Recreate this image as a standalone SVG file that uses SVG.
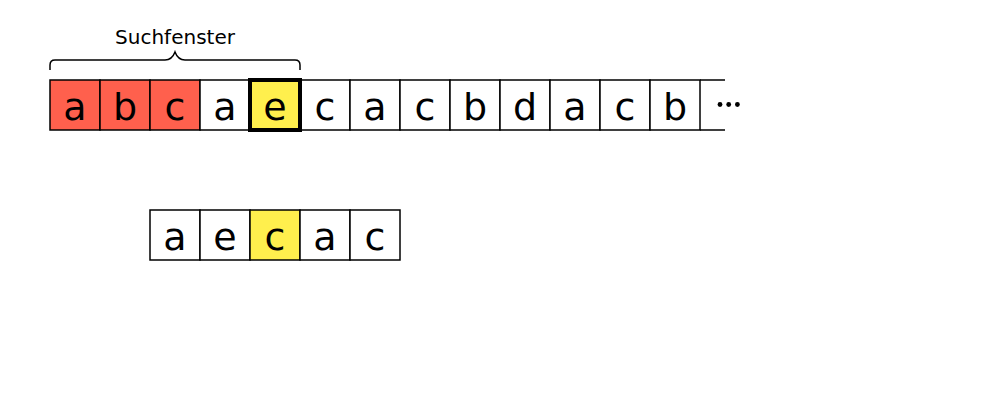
<svg xmlns="http://www.w3.org/2000/svg" width="1000" height="400" viewBox="0 0 1000 400">
<style>
.c{stroke:#000;stroke-width:1.5;fill:#fff}
.r{fill:#FF604D}
.y{fill:#FFEF4D}
.t{font-family:"DejaVu Sans",sans-serif;font-size:38px;text-anchor:middle;fill:#000}
.s{font-family:"DejaVu Sans",sans-serif;font-size:20px;text-anchor:middle;fill:#000}
</style>
<rect width="1000" height="400" fill="#fff"/>
<g id="label"><text class="s" x="175" y="43.5">Suchfenster</text></g>
<g id="brace"><path d="M50,70 v-5 q0,-5 5,-5 h110 q7,0 10,-8 q3,8 10,8 h110 q5,0 5,5 v5" fill="none" stroke="#000" stroke-width="1.5"/></g>
<g id="text-row">
<g id="t0"><rect class="c r" x="50" y="80" width="50" height="50"/><text class="t" x="75" y="119.5">a</text></g>
<g id="t1"><rect class="c r" x="100" y="80" width="50" height="50"/><text class="t" x="125" y="119.5">b</text></g>
<g id="t2"><rect class="c r" x="150" y="80" width="50" height="50"/><text class="t" x="175" y="119.5">c</text></g>
<g id="t3"><rect class="c" x="200" y="80" width="50" height="50"/><text class="t" x="225" y="119.5">a</text></g>
<g id="t5"><rect class="c" x="300" y="80" width="50" height="50"/><text class="t" x="325" y="119.5">c</text></g>
<g id="t6"><rect class="c" x="350" y="80" width="50" height="50"/><text class="t" x="375" y="119.5">a</text></g>
<g id="t7"><rect class="c" x="400" y="80" width="50" height="50"/><text class="t" x="425" y="119.5">c</text></g>
<g id="t8"><rect class="c" x="450" y="80" width="50" height="50"/><text class="t" x="475" y="119.5">b</text></g>
<g id="t9"><rect class="c" x="500" y="80" width="50" height="50"/><text class="t" x="525" y="119.5">d</text></g>
<g id="t10"><rect class="c" x="550" y="80" width="50" height="50"/><text class="t" x="575" y="119.5">a</text></g>
<g id="t11"><rect class="c" x="600" y="80" width="50" height="50"/><text class="t" x="625" y="119.5">c</text></g>
<g id="t12"><rect class="c" x="650" y="80" width="50" height="50"/><text class="t" x="675" y="119.5">b</text></g>
<g id="t4"><rect class="y" x="250" y="80" width="50" height="50" stroke="#000" stroke-width="4"/><text class="t" x="275" y="119.5">e</text></g>
<g id="more"><path d="M700,80 h25 M700,130 h25" stroke="#000" stroke-width="1.5"/><circle cx="720" cy="104.5" r="2.4"/><circle cx="728.7" cy="104.5" r="2.4"/><circle cx="737.4" cy="104.5" r="2.4"/></g>
</g>
<g id="pattern-row">
<g id="p0"><rect class="c" x="150" y="210" width="50" height="50"/><text class="t" x="175" y="250">a</text></g>
<g id="p1"><rect class="c" x="200" y="210" width="50" height="50"/><text class="t" x="225" y="250">e</text></g>
<g id="p2"><rect class="c y" x="250" y="210" width="50" height="50"/><text class="t" x="275" y="250">c</text></g>
<g id="p3"><rect class="c" x="300" y="210" width="50" height="50"/><text class="t" x="325" y="250">a</text></g>
<g id="p4"><rect class="c" x="350" y="210" width="50" height="50"/><text class="t" x="375" y="250">c</text></g>
</g>
<g id="connectors"/>
</svg>
